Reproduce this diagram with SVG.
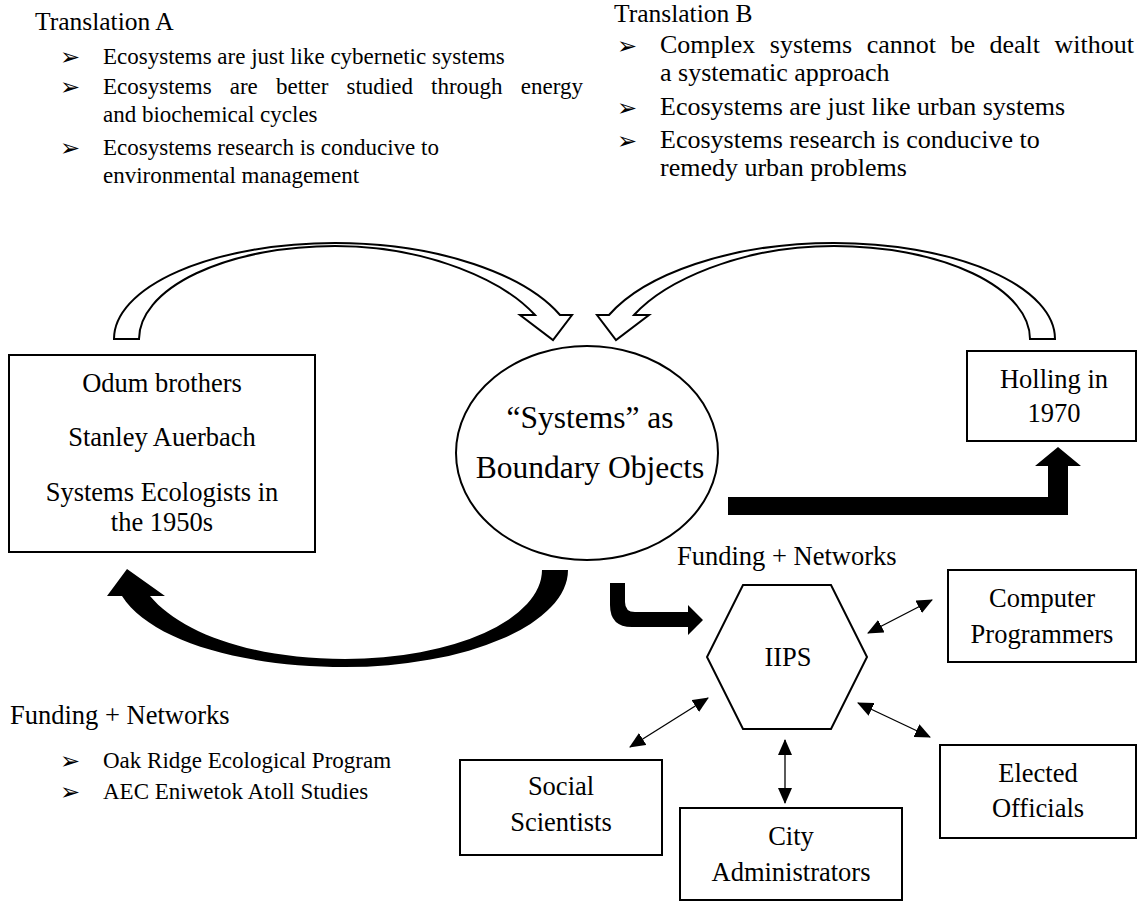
<svg xmlns="http://www.w3.org/2000/svg" width="1143" height="909" viewBox="0 0 1143 909">
<defs>
<style>
.t{font-family:"Liberation Serif","Times New Roman",serif;font-size:23px;fill:#000}
.tb{font-family:"Liberation Serif","Times New Roman",serif;font-size:26px;fill:#000}
.h{font-family:"Liberation Serif","Times New Roman",serif;font-size:25.5px;fill:#000}
.f{font-family:"Liberation Serif","Times New Roman",serif;font-size:26.5px;fill:#000}
.n{font-family:"Liberation Serif","Times New Roman",serif;font-size:26.5px;fill:#000;text-anchor:middle}
.e{font-family:"Liberation Serif","Times New Roman",serif;font-size:31.5px;fill:#000;text-anchor:middle}
.b{font-family:"DejaVu Sans",sans-serif;font-size:24px;fill:#000}
.box{fill:#fff;stroke:#000;stroke-width:2}
.hollow{fill:#fff;stroke:#000;stroke-width:2;stroke-linejoin:miter}
.solid{fill:#000;stroke:none}
.thin{fill:none;stroke:#000;stroke-width:1.3}
</style>
<marker id="ae" markerUnits="userSpaceOnUse" markerWidth="16" markerHeight="14" refX="15" refY="7" orient="auto"><path d="M0,0 L16,7 L0,14 Z" fill="#000"/></marker>
<marker id="as" markerUnits="userSpaceOnUse" markerWidth="16" markerHeight="14" refX="1" refY="7" orient="auto"><path d="M16,0 L0,7 L16,14 Z" fill="#000"/></marker>
</defs>
<rect width="1143" height="909" fill="#fff"/>

<g id="translation-a">
<text class="h" x="35" y="30">Translation A</text>
<text class="b" x="60" y="65">➢</text><text class="t" x="103" y="64">Ecosystems are just like cybernetic systems</text>
<text class="b" x="60" y="95">➢</text><text class="t" x="103" y="94" word-spacing="12.4">Ecosystems are better studied through energy</text>
<text class="t" x="103" y="122">and biochemical cycles</text>
<text class="b" x="60" y="156">➢</text><text class="t" x="103" y="155">Ecosystems research is conducive to</text>
<text class="t" x="103" y="183">environmental management</text>
</g>

<g id="translation-b">
<text class="h" x="614" y="22">Translation B</text>
<text class="b" x="617" y="54">➢</text><text class="tb" x="660" y="53" word-spacing="8">Complex systems cannot be dealt without</text>
<text class="tb" x="660" y="81">a systematic approach</text>
<text class="b" x="617" y="116">➢</text><text class="tb" x="660" y="115">Ecosystems are just like urban systems</text>
<text class="b" x="617" y="149">➢</text><text class="tb" x="660" y="148">Ecosystems research is conducive to</text>
<text class="tb" x="660" y="176">remedy urban problems</text>
</g>

<g id="connectors">
<path class="hollow" d="M114,339 A221,96 0 0 1 335,243 C440,243 525,275 560,315 L572,315 L553,340 L520,315 L535,315 C505,282 430,246 335,246 A196,93 0 0 0 139,339 Z"/>
<path class="hollow" d="M1055,339 A221,96 0 0 0 834,243 C729,243 644,275 609,315 L597,315 L616,340 L649,315 L634,315 C664,282 739,246 834,246 A196,93 0 0 1 1030,339 Z"/>
<path class="solid" d="M728,497 L1048,497 L1048,466 L1035,466 L1058,447 L1081,466 L1068,466 L1068,515 L728,515 Z"/>
<path class="solid" d="M568,570 A223,97 0 0 1 345,667 C240,667 150,640 122,596 L107,596 L127,569 L165,596 L150,596 C180,632 250,659 345,659 A197,89 0 0 0 542,570 Z"/>
<path class="solid" d="M610,583 L625,583 L625,602 Q625,612 635,612 L688,612 L688,605 L703,620 L688,635 L688,627 L632,627 Q610,627 610,605 Z"/>
<line class="thin" x1="868" y1="633" x2="932" y2="600" marker-start="url(#as)" marker-end="url(#ae)"/>
<line class="thin" x1="858" y1="703" x2="930" y2="737" marker-start="url(#as)" marker-end="url(#ae)"/>
<line class="thin" x1="708" y1="698" x2="630" y2="747" marker-start="url(#as)" marker-end="url(#ae)"/>
<line class="thin" x1="785" y1="740" x2="785" y2="803" marker-start="url(#as)" marker-end="url(#ae)"/>
</g>

<g id="odum">
<rect class="box" x="9" y="355" width="306" height="197"/>
<text class="n" x="162" y="392">Odum brothers</text>
<text class="n" x="162" y="446">Stanley Auerbach</text>
<text class="n" x="162" y="501">Systems Ecologists in</text>
<text class="n" x="162" y="531">the 1950s</text>
</g>

<g id="systems">
<ellipse class="box" cx="587" cy="453" rx="131" ry="107"/>
<text class="e" x="590" y="428">“Systems” as</text>
<text class="e" x="590" y="478">Boundary Objects</text>
</g>

<g id="holling">
<rect class="box" x="967" y="351" width="169" height="90"/>
<text class="n" x="1054" y="388">Holling in</text>
<text class="n" x="1054" y="422">1970</text>
</g>

<g id="funding-right">
<text class="f" x="677" y="565">Funding + Networks</text>
</g>

<g id="iips">
<polygon class="box" points="743,585 831,585 867,657 831,729 743,729 707,657"/>
<text class="n" x="788" y="666">IIPS</text>
</g>

<g id="computer">
<rect class="box" x="948" y="570" width="188" height="92"/>
<text class="n" x="1042" y="607">Computer</text>
<text class="n" x="1042" y="643">Programmers</text>
</g>

<g id="elected">
<rect class="box" x="940" y="745" width="196" height="93"/>
<text class="n" x="1038" y="782">Elected</text>
<text class="n" x="1038" y="817">Officials</text>
</g>

<g id="social">
<rect class="box" x="460" y="760" width="202" height="95"/>
<text class="n" x="561" y="795">Social</text>
<text class="n" x="561" y="831">Scientists</text>
</g>

<g id="city">
<rect class="box" x="680" y="808" width="222" height="92"/>
<text class="n" x="791" y="845">City</text>
<text class="n" x="791" y="881">Administrators</text>
</g>

<g id="funding-left">
<text class="f" x="10" y="724">Funding + Networks</text>
<text class="b" x="60" y="769">➢</text><text class="t" x="103" y="768">Oak Ridge Ecological Program</text>
<text class="b" x="60" y="800">➢</text><text class="t" x="103" y="799">AEC Eniwetok Atoll Studies</text>
</g>
</svg>
